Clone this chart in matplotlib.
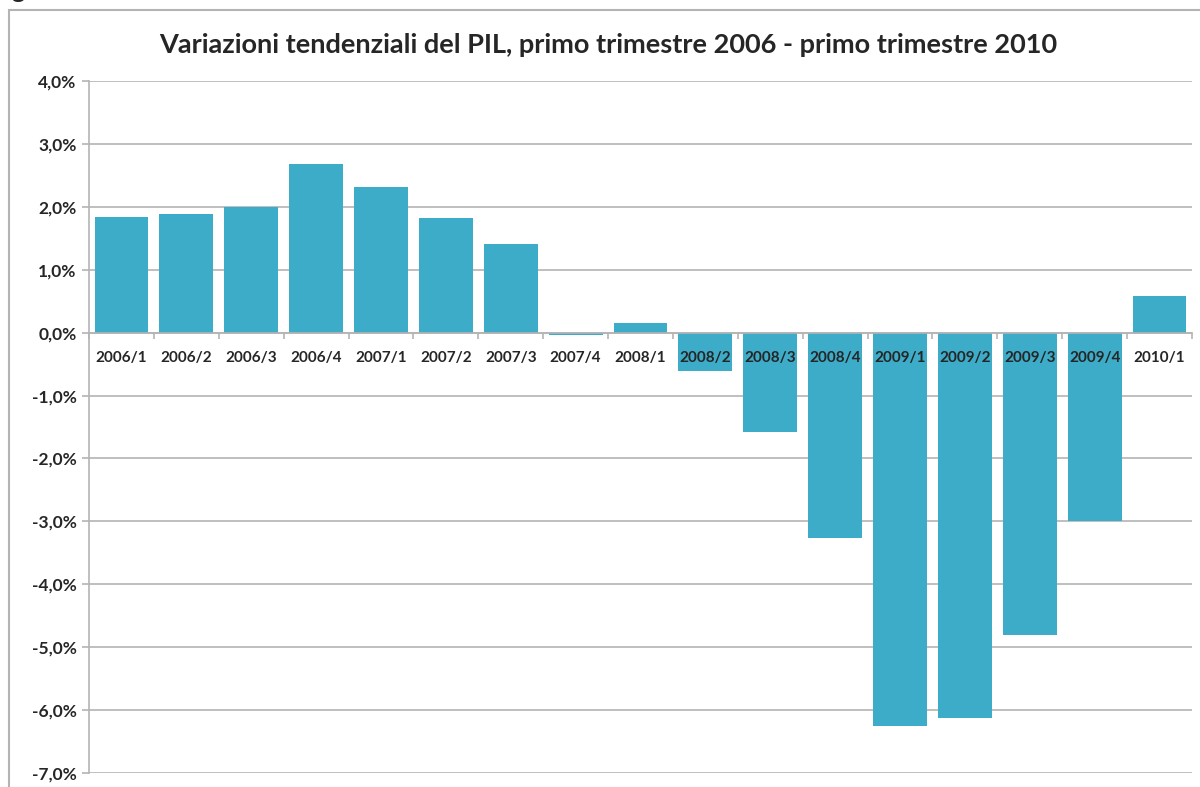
import numpy as np
import matplotlib.pyplot as plt
from matplotlib.patches import Rectangle
from matplotlib.ticker import FuncFormatter

plt.rcParams['font.family'] = ['Lato', 'DejaVu Sans']

trimestri = ['2006/1', '2006/2', '2006/3', '2006/4', '2007/1', '2007/2', '2007/3',
             '2007/4', '2008/1', '2008/2', '2008/3', '2008/4', '2009/1', '2009/2',
             '2009/3', '2009/4', '2010/1']
variazioni = [1.84, 1.88, 2.00, 2.68, 2.31, 1.82, 1.41, -0.03, 0.15, -0.61,
              -1.58, -3.27, -6.25, -6.13, -4.81, -3.00, 0.58]

col_barre = '#3DACC9'
col_testo = '#262626'
col_linee = '#B4B4B4'

fig = plt.figure(figsize=(12, 7.87), dpi=100)

# cornice esterna del grafico (tagliata a destra e in basso)
fig.patches.append(Rectangle((9/1200, -0.05), 1.2, 1 - 10/787 + 0.05,
                             transform=fig.transFigure, fill=False,
                             edgecolor=col_linee, linewidth=1.5))
# pezzo di testo tagliato in alto a sinistra
fig.text(11/1200, 1 + 2/787, 'g', fontsize=18, fontweight='bold',
         color=col_testo, va='baseline', ha='left')

ax = fig.add_axes([89/1200, 1 - 773/787, 1103/1200, (773 - 81)/787])

x = np.arange(len(trimestri))
ax.bar(x, variazioni, width=0.83, color=col_barre, zorder=1)

ax.set_xlim(-0.5, len(trimestri) - 0.5)
ax.set_ylim(-7, 4)
ax.set_yticks(np.arange(-7, 5, 1))
ax.yaxis.set_major_formatter(FuncFormatter(lambda v, p: f'{v:.1f}%'.replace('.', ',')))
ax.grid(axis='y', color=col_linee, linewidth=1.2)
ax.set_axisbelow(True)
ax.xaxis.set_zorder(3)

for s in ['top', 'right']:
    ax.spines[s].set_visible(False)
ax.spines['left'].set_color(col_linee)
ax.spines['left'].set_linewidth(1.2)
ax.spines['bottom'].set_position(('data', 0))
ax.spines['bottom'].set_color(col_linee)
ax.spines['bottom'].set_linewidth(1.2)

ax.set_xticks(x)
ax.set_xticklabels(trimestri)
ax.set_xticks(np.arange(-0.5, len(trimestri), 1), minor=True)
ax.tick_params(axis='x', which='major', length=0, pad=13, labelsize=11,
               labelcolor=col_testo)
ax.tick_params(axis='x', which='minor', length=4, direction='out',
               color=col_linee, width=1.2)
ax.tick_params(axis='y', length=5, color=col_linee, width=1.2, labelsize=12.5,
               labelcolor=col_testo, pad=4)
for lab in ax.get_xticklabels() + ax.get_yticklabels():
    lab.set_fontweight('bold')

fig.text(608/1200, 1 - 45/787,
         'Variazioni tendenziali del PIL, primo trimestre 2006 - primo trimestre 2010',
         ha='center', va='center', fontsize=19.5, fontweight='bold', color=col_testo)

fig.savefig('out.png', dpi=100)
